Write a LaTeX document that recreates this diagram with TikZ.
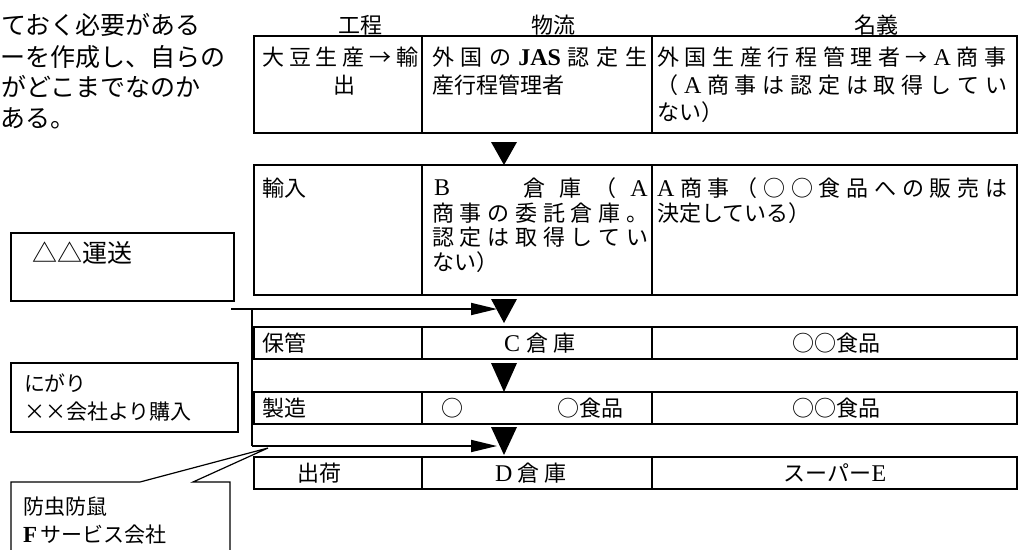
\documentclass[tikz,border=0pt]{standalone}
\usepackage{fontspec}
\setmainfont{Noto Sans CJK JP}
\newfontfamily\lat{Liberation Serif}
\usetikzlibrary{arrows.meta}
\def\spend{\relax}
\def\spreadaux#1{\def\sptmp{#1}\ifx\sptmp\spend\else{#1}\hfil\expandafter\spreadaux\fi}
\newcommand\jl[2]{\hbox to #1{\spreadaux#2\relax\unskip}}
\newcommand\la[1]{{\lat\fontsize{24pt}{26pt}\selectfont #1}}
\tikzset{
  tbl/.style={line width=2pt},
  box/.style={draw, line width=1.2pt},
  txt/.style={inner sep=0pt, font=\fontsize{22pt}{26pt}\selectfont},
  sidetxt/.style={inner sep=0pt, font=\fontsize{21pt}{25pt}\selectfont, anchor=west},
  toptxt/.style={inner sep=0pt, font=\fontsize{25pt}{30pt}\selectfont, anchor=west},
  tri/.style={fill=black},
  arr/.style={line width=1.8pt, -{Triangle[length=26pt,width=12pt]}},
  thinln/.style={line width=1.2pt}
}
\begin{document}
\begin{tikzpicture}[x=1pt,y=-1pt]
\useasboundingbox (0,0) rectangle (1022,549);
\clip (0,0) rectangle (1022,549);
% top-left paragraph (cropped)
\node[toptxt] (p1) at (1,25) {ておく必要がある};
\node[toptxt] (p2) at (0,57) {ーを作成し、自らの};
\node[toptxt] (p3) at (1,87) {がどこまでなのか};
\node[toptxt] (p4) at (0,118) {ある。};
% headers
\node[txt] (h1) at (360,25) {工程};
\node[txt] (h2) at (553,25) {物流};
\node[txt] (h3) at (876,25) {名義};
% table rows
\draw[tbl] (254,36) rectangle (1017,133) (422,36) -- (422,133) (652,36) -- (652,133);
\draw[tbl] (254,165) rectangle (1017,295) (422,165) -- (422,295) (652,165) -- (652,295);
\draw[tbl] (254,327) rectangle (1017,359) (422,327) -- (422,359) (652,327) -- (652,359);
\draw[tbl] (254,392) rectangle (1017,424) (422,392) -- (422,424) (652,392) -- (652,424);
\draw[tbl] (254,457) rectangle (1017,489) (422,457) -- (422,489) (652,457) -- (652,489);
% row 1
\node[txt,anchor=west] (r1a1) at (262,57) {\jl{156pt}{大豆生産→輸}};
\node[txt] (r1a2) at (344,85) {出};
\node[txt,anchor=west] (r1b1) at (432,57) {\jl{215pt}{外国の{\la{\bfseries JAS}}認定生}};
\node[txt,anchor=west] (r1b2) at (432,85) {産行程管理者};
\node[txt,anchor=west] (r1c1) at (657,57) {\jl{349pt}{外国生産行程管理者→{\la A}商事}};
\node[txt,anchor=west] (r1c2) at (656,85) {\jl{351pt}{（{\la A}商事は認定は取得してい}};
\node[txt,anchor=west] (r1c3) at (657,112) {ない）};
% row 2
\node[txt,anchor=west] (r2a1) at (262,188) {輸入};
\node[txt,anchor=west] (r2b1) at (434,188) {\la B};
\node[txt,anchor=east] (r2b1x) at (648,188) {\jl{124pt}{倉庫（{\la A}}};
\node[txt,anchor=west] (r2b2) at (432,213) {\jl{216pt}{商事の委託倉庫。}};
\node[txt,anchor=west] (r2b3) at (432,237) {\jl{216pt}{認定は取得してい}};
\node[txt,anchor=west] (r2b4) at (432,262) {ない）};
\node[txt,anchor=west] (r2c1) at (657,188) {\jl{350pt}{{\la A}商事（○○食品への販売は}};
\node[txt,anchor=west] (r2c2) at (657,213) {決定している）};
% row 3
\node[txt,anchor=west] (r3a) at (262,343) {保管};
\node[txt] (r3b) at (540,343) {\jl{72pt}{{\la C}倉庫}};
\node[txt] (r3c) at (836,343) {○○食品};
% row 4
\node[txt,anchor=west] (r4a) at (262,408) {製造};
\node[txt] (r4b1) at (452,408) {○};
\node[txt,anchor=east] (r4b2) at (624,408) {○食品};
\node[txt] (r4c) at (836,408) {○○食品};
% row 5
\node[txt] (r5a) at (319,473) {出荷};
\node[txt] (r5b) at (531,473) {\jl{72pt}{{\la D}倉庫}};
\node[txt] (r5c) at (835,473) {スーパー\la{E}};
% triangles
\fill[tri] (491,142) -- (517,142) -- (504,165) -- cycle;
\fill[tri] (491,299) -- (517,299) -- (504,323) -- cycle;
\fill[tri] (491,363) -- (517,363) -- (504,392) -- cycle;
\fill[tri] (491,427) -- (517,427) -- (504,455) -- cycle;
% side boxes
\draw[box] (11,233) rectangle (234,301);
\node[sidetxt,font=\fontsize{25pt}{30pt}\selectfont] (bx1) at (32,253) {△△運送};
\draw[box] (11,363) rectangle (238,432);
\node[sidetxt] (bx2a) at (24,383) {にがり};
\node[sidetxt] (bx2b) at (24,412) {××会社より購入};
\draw[box,fill=white] (11,482) -- (140,482) -- (268,448) -- (193,482) -- (230,482) -- (230,560) -- (11,560) -- cycle;
\node[sidetxt] (bx3a) at (23,507) {防虫防鼠};
\node[sidetxt] (bx3b) at (23,535) {{\lat\bfseries\fontsize{23pt}{25pt}\selectfont F}\,サービス会社};
% arrows
\coordinate (a1s) at (231,309);
\coordinate (a1e) at (497,309);
\coordinate (vbot) at (252,446);
\coordinate (vtop) at (252,309);
\coordinate (a2e) at (497,446);
\draw[thinln] (vtop) -- (vbot);
\draw[arr] (a1s) -- (a1e);
\draw[arr] (vbot) -- (a2e);
\end{tikzpicture}
\end{document}
